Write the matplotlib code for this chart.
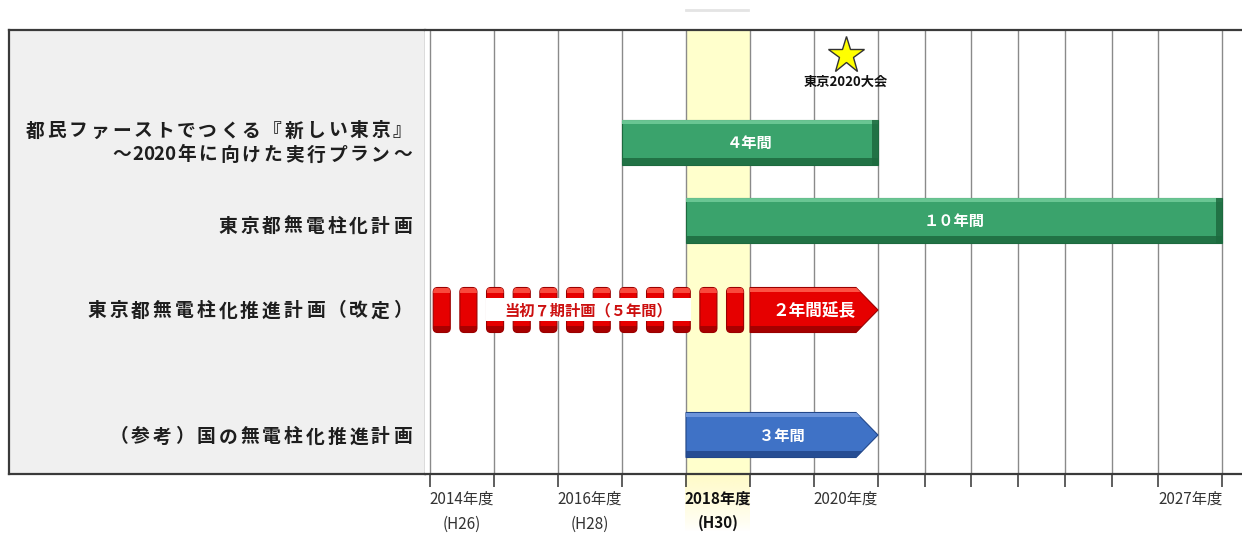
import unicodedata
import numpy as np
import matplotlib
matplotlib.use('Agg')
import matplotlib.pyplot as plt
from matplotlib.patches import Rectangle, Polygon, FancyBboxPatch
from matplotlib.lines import Line2D
from matplotlib.colors import to_rgb

plt.rcParams['font.family'] = ['Noto Sans CJK JP', 'DejaVu Sans']

# 年度（横軸）
years = list(range(2014, 2028))
narrow_years = list(range(2021, 2027))      # 詰めて表示する年度
label_years = [2014, 2016, 2018, 2020, 2027]
year_labels = ['2014年度\n(H26)', '2016年度\n(H28)', '2018年度\n(H30)',
               '2020年度', '2027年度']
this_year = 2018

# 各計画
plan_names = ['都民ファーストでつくる『新しい東京』\n～2020年に向けた実行プラン～',
              '東京都無電柱化計画',
              '東京都無電柱化推進計画（改定）',
              '（参考）国の無電柱化推進計画']
plan_start = [2017, 2018, 2019, 2018]
plan_end = [2020, 2027, 2020, 2020]
plan_text = ['４年間', '１０年間', '２年間延長', '３年間']
plan_kind = ['bar', 'bar', 'arrow', 'arrow']
plan_color = ['green', 'green', 'red', 'blue']

# 改定前の当初計画（点線部分）
orig_start, orig_end = 2014, 2018
orig_text = '当初７期計画（５年間）'
orig_row = 2

event_year = 2020
event_text = '東京2020大会'

# 色（本体, ハイライト, 影）
palette = {'green': ('#3aa36c', '#6fca98', '#1d6a3f'),
           'red': ('#e60000', '#ff5c4c', '#9a0000'),
           'blue': ('#3f72c6', '#739ade', '#22478a')}

# レイアウト（px）
W, H = 1242, 533
frame_l, frame_t, frame_b = 9, 30, 474
split_x = 425
origin_x = 430          # 2014年度の左端
px_unit = 64            # 通常の1年度の幅
row_y = [112, 190, 280, 405]
name_dy = [0, 6, 1, 2]
bar_h = 45
head_px = 22

# 年度 -> 横位置（2021～2026年度は幅を詰める）
col_w = np.array([0.73 if y in narrow_years else 1.0 for y in years])
edge_years = np.arange(years[0], years[-1] + 2)
edge_pos = np.concatenate([[0.0], np.cumsum(col_w)])
ext_years = np.concatenate([[edge_years[0] - 10], edge_years, [edge_years[-1] + 10]])
ext_pos = np.concatenate([[edge_pos[0] - 10], edge_pos, [edge_pos[-1] + 10]])


def fwd(x):
    return np.interp(x, ext_years, ext_pos)


def inv(p):
    return np.interp(p, ext_pos, ext_years)


def shift(x, px):
    return float(inv(fwd(x) + px / px_unit))


def spaced_text(ax, x_right, y, s, size, adv, **kw):
    # 字間をあけて右寄せで1文字ずつ置く
    x = x_right
    for c in reversed(s):
        w = 0.5 if unicodedata.east_asian_width(c) in ('Na', 'H', 'N') else 1.0
        x -= w * adv
        ax.text(x + w * adv / 2, y, c, ha='center', va='center', fontsize=size,
                fontweight='bold', color='#1e1e1e', **kw)


fig = plt.figure(figsize=(W / 100, H / 100), dpi=100)

# 左の見出し欄
lax = fig.add_axes([frame_l / W, 1 - frame_b / H, (split_x - frame_l) / W,
                    (frame_b - frame_t) / H])
lax.set_xlim(frame_l, split_x)
lax.set_ylim(frame_b - frame_t, 0)
lax.set_facecolor('#f0f0f0')
lax.set_xticks([])
lax.set_yticks([])
for s in ['left', 'top', 'bottom']:
    lax.spines[s].set_color('#3a3a3a')
    lax.spines[s].set_linewidth(1.6)
lax.spines['right'].set_color('#8a8a8a')
lax.spines['right'].set_linewidth(1.0)

for i, name in enumerate(plan_names):
    lines = name.split('\n')
    y = row_y[i] + name_dy[i]
    if len(lines) == 2:
        spaced_text(lax, 413, y - 11, lines[0], 13.5, 21.6)
        spaced_text(lax, 413, y + 13, lines[1], 13.5, 21.6)
    else:
        spaced_text(lax, 413, y, lines[0], 13.5, 21.8)

# 年度の表
ax = fig.add_axes([split_x / W, 1 - frame_b / H, (W - split_x) / W,
                   (frame_b - frame_t) / H])
ax.set_xscale('function', functions=(fwd, inv))
ax.set_xlim(float(inv((split_x - origin_x) / px_unit)), float(inv((W - origin_x) / px_unit)))
ax.set_ylim(frame_b - frame_t, 0)
for s in ['left', 'right']:
    ax.spines[s].set_visible(False)
for s in ['top', 'bottom']:
    ax.spines[s].set_color('#3a3a3a')
    ax.spines[s].set_linewidth(1.6)
ax.set_yticks([])

ax.axvspan(this_year, this_year + 1, color='#ffffcc', zorder=0, lw=0)
ax.vlines(edge_years, 0, frame_b - frame_t, colors='#8a8a8a', lw=1.0, zorder=1)

ax.set_xticks(edge_years)
ax.set_xticklabels([])
ax.tick_params(axis='x', which='major', length=9, width=1.1, color='#333333',
               direction='out')
ax.set_xticks(np.array(label_years) + 0.5, labels=year_labels, minor=True)
ax.tick_params(axis='x', which='minor', length=0, pad=12, labelsize=11,
               labelcolor='#333333')
for t in ax.get_xticklabels(minor=True):
    t.set_linespacing(1.65)
    if str(this_year) in t.get_text():
        t.set_fontweight('bold')
        t.set_color('#111111')

# 計画の帯
for i in range(len(plan_names)):
    base, light, dark = palette[plan_color[i]]
    x0, x1 = plan_start[i], plan_end[i] + 1
    yc = row_y[i]
    top, bot = yc - bar_h / 2, yc + bar_h / 2
    if plan_kind[i] == 'arrow':
        xh = shift(x1, -head_px)
        verts = [(x0, top), (xh, top), (x1, yc), (xh, bot), (x0, bot)]
    else:
        verts = [(x0, top), (x1, top), (x1, bot), (x0, bot)]
    body = Polygon(verts, closed=True, fc=base, ec=dark, lw=0.8, zorder=3)
    ax.add_patch(body)
    shades = [Rectangle((x0, bot - 7), x1 - x0, 7, fc=dark, ec='none', alpha=0.85),
              Rectangle((x0, top), x1 - x0, 4, fc=light, ec='none', alpha=0.9)]
    if plan_kind[i] == 'bar':
        xr = shift(x1, -6)
        shades.append(Rectangle((xr, top), x1 - xr, bar_h, fc=dark, ec='none', alpha=0.85))
    for p in shades:
        p.set_zorder(3.1)
        ax.add_patch(p)
        p.set_clip_path(body)
    xm = float(inv((fwd(x0) + fwd(x1)) / 2))
    ax.text(xm, yc + 1, plan_text[i], ha='center', va='center', color='white',
            fontsize=12 if plan_color[i] == 'red' else 11, fontweight='bold', zorder=5)

# 当初計画の点線
base, light, dark = palette['red']
n_dash = 12
yc = row_y[orig_row]
top = yc - bar_h / 2
span = (orig_end + 1) - orig_start
period = span / n_dash
dash_w = 0.64 * period
gap = 0.05
dash_x = [orig_start + gap + k * period for k in range(n_dash)]
for d0 in dash_x:
    dash = FancyBboxPatch((d0, top), dash_w, bar_h,
                          boxstyle='round,pad=0,rounding_size=0.07',
                          mutation_aspect=px_unit, fc=base, ec=dark, lw=0.8, zorder=3)
    ax.add_patch(dash)
    for p in [Rectangle((d0, top), dash_w, 5, fc=light, ec='none', alpha=0.8),
              Rectangle((d0, top + bar_h - 7), dash_w, 7, fc=dark, ec='none', alpha=0.8)]:
        p.set_zorder(3.1)
        ax.add_patch(p)
        p.set_clip_path(dash)
box_x0 = dash_x[2] - 0.01
box_x1 = dash_x[9] + dash_w + 0.01
ax.add_patch(Rectangle((box_x0, yc - 12), box_x1 - box_x0, 23, fc='white', ec='none',
                       zorder=4))
ax.text((box_x0 + box_x1) / 2, yc, orig_text, ha='center', va='center',
        color='#cc1010', fontsize=11, fontweight='bold', zorder=5)

# 東京2020大会
ax.plot(event_year + 0.5, 25, marker='*', ms=28, mfc='#ffff00', mec='#333333',
        mew=1.0, zorder=5)
ax.text(event_year + 0.5, 52, event_text, ha='center', va='center', fontsize=9.5,
        fontweight='bold', color='#111111', zorder=5)

# 2018年度の帯を軸の下へぼかして延ばす
gax = fig.add_axes([(origin_x + 4 * px_unit - 1) / W, 1 - 532 / H, (px_unit + 1) / W,
                    (532 - frame_b) / H], zorder=-1)
grad = np.zeros((60, 1, 4))
grad[:, 0, :3] = to_rgb('#fffbc8')
grad[:, 0, 3] = np.linspace(1.0, 0.0, 60) ** 0.8
gax.imshow(grad, aspect='auto', extent=[0, 1, 0, 1])
gax.axis('off')

fig.add_artist(Line2D([686 / W, 748 / W], [1 - 10 / H] * 2, color='#e4e4e4', lw=2))

fig.savefig('out.png', dpi=100)
